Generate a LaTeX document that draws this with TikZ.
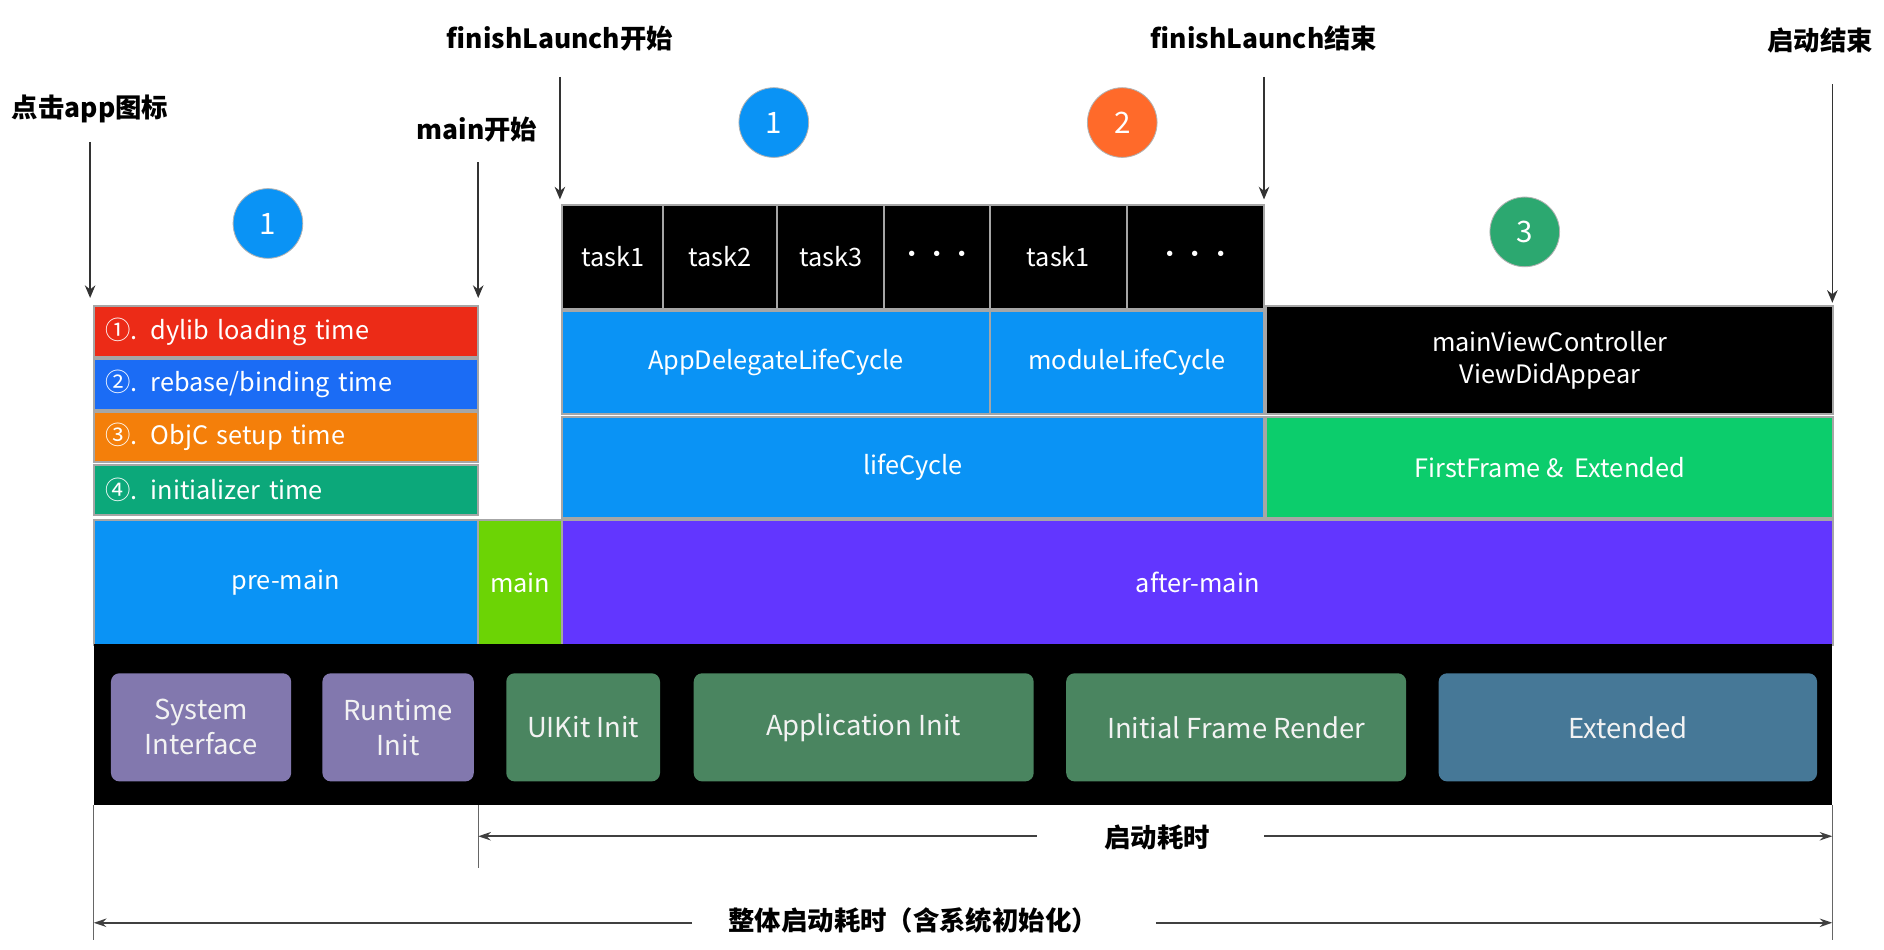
\documentclass[tikz,border=0pt]{standalone}
\usepackage{fontspec}
\setmainfont{Noto Sans CJK SC}
\usetikzlibrary{arrows.meta}
\definecolor{cRed}{HTML}{EC2B17}
\definecolor{cBlue}{HTML}{1B6CF5}
\definecolor{cOrange}{HTML}{F47F0A}
\definecolor{cTeal}{HTML}{0CA87A}
\definecolor{cSky}{HTML}{0A93F5}
\definecolor{cLime}{HTML}{6CD405}
\definecolor{cPurple}{HTML}{6236FF}
\definecolor{cMint}{HTML}{0CCD6C}
\definecolor{cLav}{HTML}{8278AE}
\definecolor{cFern}{HTML}{4A8560}
\definecolor{cSteel}{HTML}{467897}
\definecolor{cDot}{HTML}{FF6A2A}
\definecolor{cJade}{HTML}{2CA870}
\tikzset{
  blk/.style={draw=gray!70, line width=1pt, text=white, font=\fontsize{12}{15}\selectfont, align=center, inner sep=0pt, anchor=north west},
  phase/.style={fill=#1, rounded corners=4pt, text=white!90!gray, font=\fontsize{13}{16.5}\selectfont, align=center, inner sep=0pt, minimum height=1.8cm, anchor=north west},
  dot/.style={circle, fill=#1, draw=gray!60, minimum size=1.16cm, text=white, font=\fontsize{14}{15}\selectfont, inner sep=0pt},
  lbl/.style={font=\fontsize{12.5}{15}\selectfont\bfseries},
  pin/.style={-{Stealth[length=6pt,width=5pt]}, black!80, line width=0.7pt},
  span/.style={-{Stealth[length=6pt,width=4pt]}, black!75, line width=0.8pt},
  rule/.style={black!60, line width=0.6pt}
}
\begin{document}
\begin{tikzpicture}[x=0.02cm,y=-0.02cm]
\useasboundingbox (0,0) rectangle (1568,790);

% left column
\foreach \n/\c/\y/\t in {dyl/cRed/254/{①. dylib loading time}, reb/cBlue/298/{②. rebase/binding time}, objc/cOrange/342/{③. ObjC setup time}, init/cTeal/386/{④. initializer time}}
  \node[blk, fill=\c, minimum width=6.4cm, minimum height=0.84cm, text width=6.0cm, align=left] (\n) at (77,\y) {\t};

% main row
\node[blk, fill=cSky, minimum width=6.4cm, minimum height=2.08cm] (pre) at (77,432) {pre-main};
\node[blk, fill=cLime, minimum width=1.4cm, minimum height=2.08cm] (mn) at (397,432) {main};
\node[blk, fill=cPurple, minimum width=21.16cm, minimum height=2.08cm] (aft) at (467,432) {after-main};

% tasks
\foreach \n/\a/\b/\t in {t1/467/551/task1, t2/551/646/task2, t3/646/735/task3, t4/735/823/···, t5/823/937/task1, t6/937/1051/···}
  \node[blk, fill=black, minimum width=(\b-\a)*0.02cm, minimum height=1.72cm] (\n) at (\a,170) {\t};
\node[blk, fill=cSky, minimum width=7.12cm, minimum height=1.72cm] (app) at (467,258) {AppDelegateLifeCycle};
\node[blk, fill=cSky, minimum width=4.56cm, minimum height=1.72cm] (mod) at (823,258) {moduleLifeCycle};
\node[blk, fill=cSky, minimum width=11.68cm, minimum height=1.68cm] (life) at (467,346) {lifeCycle};
\node[blk, fill=black, minimum width=9.44cm, minimum height=1.8cm] (mvc) at (1053,254) {mainViewController\\ViewDidAppear};
\node[blk, fill=cMint, minimum width=9.44cm, minimum height=1.68cm] (ff) at (1053,346) {FirstFrame \& \ Extended};

% phase band
\fill[black] (78,536) rectangle (1525,670);
\node[phase=cLav, minimum width=3.0cm] (sys) at (92,560) {System\\Interface};
\node[phase=cLav, minimum width=2.52cm] (rt) at (268,560) {Runtime\\Init};
\node[phase=cFern, minimum width=2.56cm] (uik) at (421,560) {UIKit Init};
\node[phase=cFern, minimum width=5.66cm] (appi) at (577,560) {Application Init};
\node[phase=cFern, minimum width=5.66cm] (ifr) at (887,560) {Initial Frame Render};
\node[phase=cSteel, minimum width=6.3cm] (ext) at (1197,560) {Extended};

% stage dots
\node[dot=cSky] (d1) at (223,186) {1};
\node[dot=cSky] (d2) at (644,102) {1};
\node[dot=cDot] (d3) at (934,102) {2};
\node[dot=cJade] (d4) at (1269,193) {3};

% markers
\node[lbl] (tap) at (75,91) {点击app图标};
\node[lbl] (ms) at (397,108) {main开始};
\node[lbl] (fs) at (466,32) {finishLaunch开始};
\node[lbl] (fe) at (1052,32) {finishLaunch结束};
\node[lbl] (se) at (1515,34) {启动结束};
\draw[pin] (75,118) -- (75,248);
\draw[pin] (398,135) -- (398,248);
\draw[pin] (466,64) -- (466,166);
\draw[pin] (1052,64) -- (1052,166);
\draw[pin] (1525,70) -- (1525,252);

% durations
\draw[rule] (398,670) -- (398,722);
\draw[rule] (78,670) -- (78,782);
\draw[rule] (1525,670) -- (1525,782);
\node[lbl] (dur) at (963,697) {启动耗时};
\node[lbl] (tot) at (760,766) {整体启动耗时（含系统初始化）};
\draw[span] (863,696) -- (398,696);
\draw[span] (1052,696) -- (1525,696);
\draw[span] (576,768) -- (78,768);
\draw[span] (962,768) -- (1525,768);
\end{tikzpicture}
\end{document}
